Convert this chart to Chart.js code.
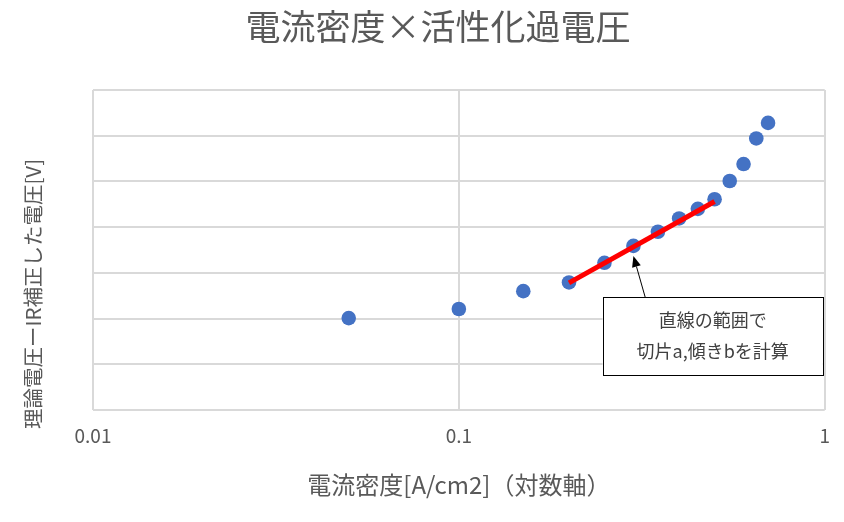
<!DOCTYPE html>
<html><head><meta charset="utf-8">
<script src="https://cdn.jsdelivr.net/npm/chart.js@4.4.1/dist/chart.umd.min.js"></script>
<style>html,body{margin:0;padding:0;background:#fff;}#wrap{width:844px;height:522px;position:relative;}</style>
</head><body><div id="wrap"><canvas id="c"></canvas></div>
<script>
const chartTitle = '電流密度×活性化過電圧';
const xAxisTitle = '電流密度[A/cm2]（対数軸）';
const yAxisTitle = '理論電圧ーIR補正した電圧[V]';
const noteLines = ['直線の範囲で', '切片a,傾きbを計算'];
const currentDensity = [0.05, 0.1, 0.15, 0.2, 0.25, 0.3, 0.35, 0.4, 0.45, 0.5, 0.55, 0.6, 0.65, 0.7];
const voltage = [0.201, 0.221, 0.260, 0.279, 0.322, 0.359, 0.390, 0.419, 0.440, 0.461, 0.501, 0.538, 0.594, 0.628];
const fitX = [0.2, 0.5];
const fitY = [0.278, 0.456];
const xTicks = [0.01, 0.1, 1];
const xTickLabels = ['0.01', '0.1', '1'];

const FONT = '"Noto Sans CJK JP", "Noto Sans", sans-serif';
const TXT = '#595959';

const overlay = {
  id: 'overlay',
  afterDraw(chart) {
    const {ctx, scales: {x, y}} = chart;
    ctx.save();
    // chart title
    ctx.fillStyle = TXT;
    ctx.textAlign = 'center';
    ctx.textBaseline = 'middle';
    ctx.font = '35px ' + FONT;
    ctx.fillText(chartTitle, 438, 27);
    // y axis title
    ctx.save();
    ctx.translate(33, 294);
    ctx.rotate(-Math.PI / 2);
    ctx.font = '20.5px ' + FONT;
    ctx.fillText(yAxisTitle, 0, 0);
    ctx.restore();
    // arrow (data coordinates)
    const ax0 = x.getPixelForValue(0.323), ay0 = y.getPixelForValue(0.247);
    const ax1 = x.getPixelForValue(0.3), ay1 = y.getPixelForValue(0.337);
    ctx.strokeStyle = '#000';
    ctx.fillStyle = '#000';
    ctx.lineWidth = 1;
    const ang = Math.atan2(ay1 - ay0, ax1 - ax0);
    const hl = 11, hw = 4.5;
    ctx.beginPath();
    ctx.moveTo(ax0, ay0);
    ctx.lineTo(ax1 - Math.cos(ang) * hl, ay1 - Math.sin(ang) * hl);
    ctx.stroke();
    ctx.beginPath();
    ctx.moveTo(ax1, ay1);
    ctx.lineTo(ax1 - Math.cos(ang) * hl - Math.sin(ang) * hw, ay1 - Math.sin(ang) * hl + Math.cos(ang) * hw);
    ctx.lineTo(ax1 - Math.cos(ang) * hl + Math.sin(ang) * hw, ay1 - Math.sin(ang) * hl - Math.cos(ang) * hw);
    ctx.closePath();
    ctx.fill();
    // note box
    const bx0 = x.getPixelForValue(0.247), bx1 = x.getPixelForValue(0.988);
    const by0 = y.getPixelForValue(0.247), by1 = y.getPixelForValue(0.0766);
    ctx.fillStyle = '#fff';
    ctx.fillRect(bx0, by0, bx1 - bx0, by1 - by0);
    ctx.strokeStyle = '#000';
    ctx.strokeRect(Math.round(bx0) + 0.5, Math.round(by0) + 0.5, Math.round(bx1 - bx0), Math.round(by1 - by0));
    ctx.fillStyle = '#404040';
    ctx.font = '18px ' + FONT;
    const cx = (bx0 + bx1) / 2, cy = (by0 + by1) / 2;
    ctx.fillText(noteLines[0], cx, cy - 15.5);
    ctx.fillText(noteLines[1], cx, cy + 15.5);
    ctx.restore();
  }
};

new Chart(document.getElementById('c'), {
  type: 'scatter',
  data: {
    datasets: [
      {
        label: 'fit',
        data: fitX.map((v, i) => ({x: v, y: fitY[i]})),
        showLine: true,
        borderColor: '#FF0000',
        borderWidth: 5,
        pointRadius: 0,
        borderCapStyle: 'butt'
      },
      {
        label: 'data',
        data: currentDensity.map((v, i) => ({x: v, y: voltage[i]})),
        backgroundColor: '#4472C4',
        borderColor: '#4472C4',
        borderWidth: 0,
        pointRadius: 7.3
      }
    ]
  },
  options: {
    responsive: true,
    maintainAspectRatio: false,
    animation: false,
    layout: {padding: {top: 90, right: 16, left: 0, bottom: 0}},
    plugins: {legend: {display: false}, tooltip: {enabled: false}, title: {display: false}},
    scales: {
      x: {
        type: 'logarithmic',
        min: 0.01, max: 1,
        afterBuildTicks: s => { s.ticks = xTicks.map(v => ({value: v})); },
        ticks: {
          callback: (v, i) => xTickLabels[i],
          color: TXT, font: {size: 19, family: FONT}, padding: 14,
          maxRotation: 0, autoSkip: false
        },
        grid: {color: '#d9d9d9', lineWidth: 2, drawTicks: false},
        border: {display: false},
        title: {display: true, text: xAxisTitle, color: TXT, font: {size: 24, family: FONT}, padding: {top: 0, bottom: 23}},
        afterFit: s => { s.height = 112; }
      },
      y: {
        min: 0, max: 0.7,
        ticks: {display: false, stepSize: 0.1},
        grid: {color: '#d9d9d9', lineWidth: 2, drawTicks: false},
        border: {display: false},
        afterFit: s => { s.width = 93; }
      }
    }
  },
  plugins: [overlay]
});
</script></body></html>
